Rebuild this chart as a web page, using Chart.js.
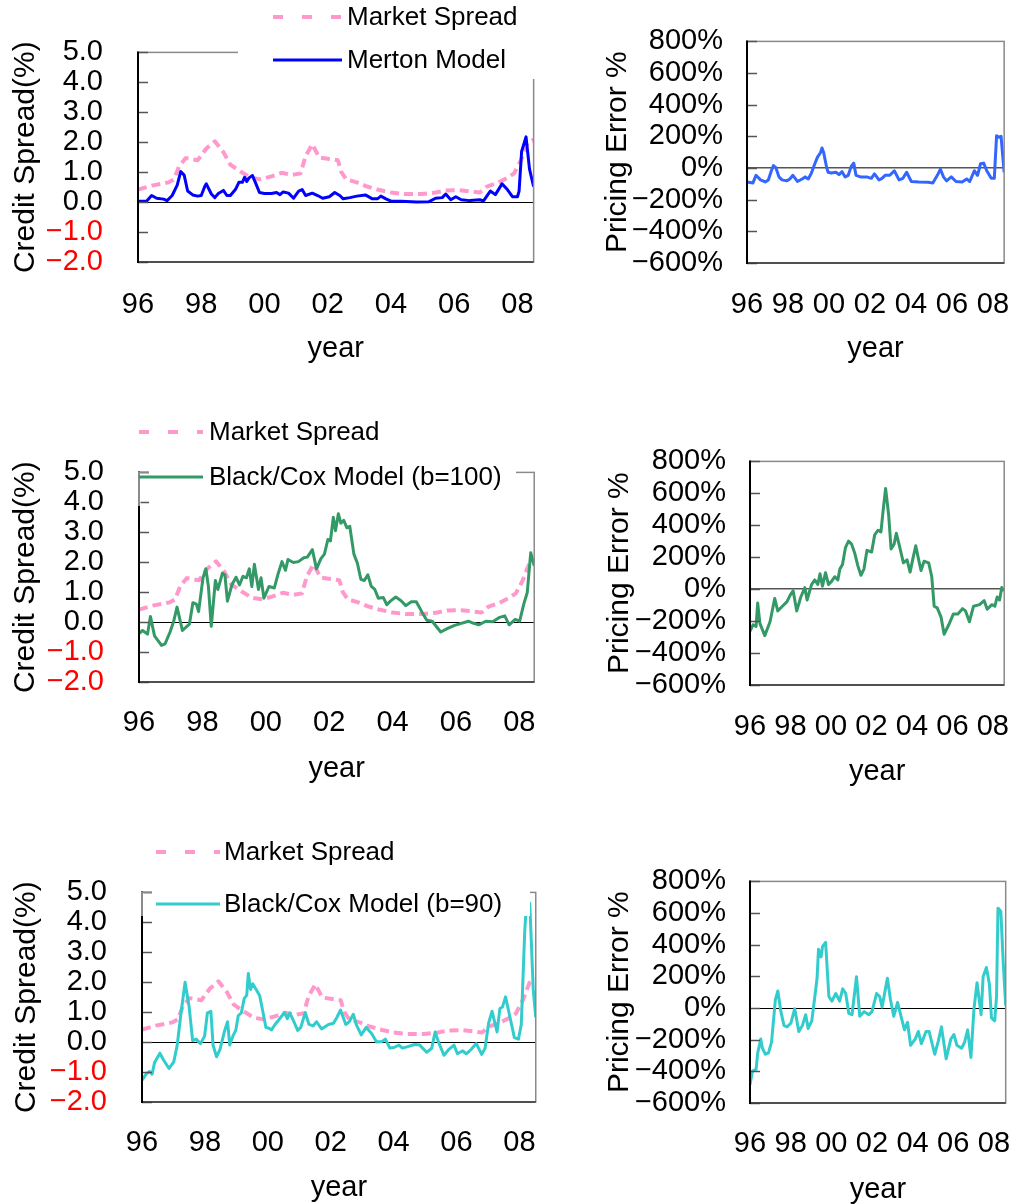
<!DOCTYPE html>
<html>
<head>
<meta charset="utf-8">
<title>Credit spread: market vs structural models</title>
<script src="https://cdn.jsdelivr.net/npm/chart.js@4.4.1/dist/chart.umd.min.js"></script>
<style>
  body { margin: 0; background: #fff; }
  #page { position: relative; width: 1034px; height: 1204px; overflow: hidden; }
  #page canvas { position: absolute; }
</style>
</head>
<body>
<div id="page"></div>
<script>
// x axis: decimal years, labelled every two years
const yearTicks = [1996, 1998, 2000, 2002, 2004, 2006, 2008];
const spreadTicks = [-2, -1, 0, 1, 2, 3, 4, 5];
const errorTicks = [-600, -400, -200, 0, 200, 400, 600, 800];

// credit spreads (%), [year, value]
const marketSpread = [
  [1996.00, 0.42], [1996.43, 0.55], [1996.97, 0.66], [1997.14, 0.76], [1997.30, 1.20], [1997.51, 1.47],
  [1997.89, 1.40], [1998.16, 1.79], [1998.43, 2.03], [1998.70, 1.67], [1998.92, 1.25], [1999.24, 1.02],
  [1999.57, 0.81], [1999.89, 0.76], [2000.22, 0.86], [2000.54, 0.98], [2000.86, 0.91], [2001.14, 0.96],
  [2001.30, 1.54], [2001.51, 1.93], [2001.73, 1.49], [2002.05, 1.44], [2002.32, 1.40], [2002.43, 1.00],
  [2002.59, 0.76], [2002.92, 0.66], [2003.24, 0.52], [2003.57, 0.42], [2004.00, 0.32], [2004.43, 0.27],
  [2004.97, 0.27], [2005.41, 0.32], [2005.73, 0.39], [2006.16, 0.40], [2006.59, 0.35], [2006.81, 0.32],
  [2007.03, 0.52], [2007.35, 0.63], [2007.68, 0.81], [2007.89, 0.96], [2008.11, 1.40], [2008.32, 1.98],
  [2008.51, 2.08]
];
const mertonSpread = [
  [1996.00, 0.03], [1996.27, 0.03], [1996.43, 0.22], [1996.59, 0.13], [1996.81, 0.10], [1996.92, 0.05],
  [1997.08, 0.22], [1997.24, 0.57], [1997.35, 1.02], [1997.46, 0.90], [1997.57, 0.37], [1997.73, 0.24],
  [1997.89, 0.20], [1998.00, 0.22], [1998.11, 0.52], [1998.16, 0.61], [1998.32, 0.27], [1998.43, 0.15],
  [1998.54, 0.29], [1998.70, 0.39], [1998.81, 0.22], [1998.92, 0.22], [1999.08, 0.42], [1999.19, 0.66],
  [1999.30, 0.66], [1999.37, 0.83], [1999.44, 0.69], [1999.51, 0.81], [1999.62, 0.89], [1999.73, 0.61],
  [1999.84, 0.32], [2000.00, 0.29], [2000.22, 0.29], [2000.38, 0.32], [2000.49, 0.25], [2000.59, 0.34],
  [2000.76, 0.30], [2000.92, 0.13], [2001.08, 0.37], [2001.19, 0.42], [2001.30, 0.22], [2001.51, 0.30],
  [2001.68, 0.22], [2001.84, 0.13], [2002.05, 0.18], [2002.22, 0.32], [2002.38, 0.22], [2002.49, 0.11],
  [2002.70, 0.15], [2002.92, 0.20], [2003.19, 0.24], [2003.41, 0.11], [2003.57, 0.11], [2003.68, 0.20],
  [2003.84, 0.11], [2004.00, 0.03], [2004.32, 0.03], [2004.81, 0.00], [2005.19, 0.01], [2005.41, 0.13],
  [2005.62, 0.15], [2005.73, 0.27], [2005.89, 0.08], [2006.05, 0.18], [2006.22, 0.08], [2006.49, 0.05],
  [2006.81, 0.08], [2006.92, 0.03], [2007.14, 0.37], [2007.30, 0.25], [2007.51, 0.61], [2007.68, 0.42],
  [2007.84, 0.18], [2008.00, 0.18], [2008.05, 0.37], [2008.13, 1.69], [2008.27, 2.18], [2008.38, 1.10],
  [2008.51, 0.52]
];
const bc100Spread = [
  [1996.00, -0.38], [1996.11, -0.28], [1996.27, -0.40], [1996.36, 0.19], [1996.49, -0.46], [1996.71, -0.78],
  [1996.82, -0.73], [1996.98, -0.33], [1997.09, 0.01], [1997.20, 0.50], [1997.37, -0.28], [1997.59, -0.07],
  [1997.70, 0.65], [1997.81, 0.60], [1997.88, 0.35], [1998.02, 1.48], [1998.11, 1.78], [1998.19, 1.19],
  [1998.28, -0.14], [1998.41, 1.39], [1998.49, 1.09], [1998.63, 1.63], [1998.71, 1.58], [1998.79, 0.70],
  [1998.93, 1.24], [1999.06, 1.50], [1999.17, 1.24], [1999.28, 1.53], [1999.39, 1.48], [1999.48, 1.78],
  [1999.56, 1.19], [1999.64, 1.93], [1999.77, 1.09], [1999.85, 1.48], [1999.94, 0.80], [2000.10, 1.19],
  [2000.27, 1.14], [2000.38, 1.58], [2000.51, 2.02], [2000.62, 1.73], [2000.70, 2.09], [2000.87, 1.99],
  [2001.03, 2.02], [2001.20, 2.15], [2001.31, 2.17], [2001.47, 2.42], [2001.60, 1.78], [2001.74, 2.12],
  [2001.85, 2.27], [2001.96, 2.76], [2002.04, 2.71], [2002.13, 3.50], [2002.20, 3.05], [2002.29, 3.62],
  [2002.37, 3.30], [2002.46, 3.40], [2002.56, 3.15], [2002.65, 3.20], [2002.78, 2.27], [2002.89, 1.97],
  [2003.00, 1.43], [2003.11, 1.39], [2003.22, 1.58], [2003.33, 1.19], [2003.44, 1.09], [2003.55, 0.80],
  [2003.71, 0.82], [2003.82, 0.58], [2003.93, 0.70], [2004.10, 0.84], [2004.26, 0.72], [2004.42, 0.55],
  [2004.59, 0.68], [2004.75, 0.68], [2004.92, 0.35], [2005.08, 0.06], [2005.25, 0.03], [2005.52, -0.33],
  [2005.74, -0.21], [2005.96, -0.11], [2006.17, -0.04], [2006.39, 0.03], [2006.56, -0.04], [2006.72, -0.09],
  [2006.94, 0.03], [2007.16, 0.01], [2007.38, 0.16], [2007.54, 0.21], [2007.68, -0.09], [2007.87, 0.09],
  [2008.01, 0.03], [2008.14, 0.60], [2008.25, 0.99], [2008.36, 2.32], [2008.47, 1.88]
];
const bc90Spread = [
  [1996.00, -1.27], [1996.13, -1.07], [1996.24, -0.98], [1996.32, -1.07], [1996.40, -0.68], [1996.57, -0.37],
  [1996.68, -0.59], [1996.86, -0.88], [1997.01, -0.66], [1997.12, -0.10], [1997.23, 0.88], [1997.37, 2.00],
  [1997.50, 1.17], [1997.61, 0.05], [1997.72, 0.10], [1997.86, -0.05], [1997.99, 0.20], [1998.08, 0.98],
  [1998.19, 1.03], [1998.26, -0.10], [1998.37, -0.49], [1998.48, -0.24], [1998.63, 0.39], [1998.72, 0.68],
  [1998.79, -0.10], [1998.89, 0.20], [1998.98, 0.39], [1999.06, 0.88], [1999.16, 0.98], [1999.25, 1.46],
  [1999.33, 1.56], [1999.38, 2.29], [1999.45, 1.76], [1999.52, 1.95], [1999.63, 1.76], [1999.74, 1.56],
  [1999.85, 0.98], [1999.94, 0.49], [2000.02, 0.47], [2000.12, 0.41], [2000.23, 0.59], [2000.34, 0.73],
  [2000.45, 0.88], [2000.53, 0.99], [2000.62, 0.78], [2000.70, 0.98], [2000.81, 0.73], [2000.95, 0.39],
  [2001.05, 0.49], [2001.19, 0.99], [2001.31, 0.59], [2001.44, 0.54], [2001.55, 0.68], [2001.71, 0.44],
  [2001.93, 0.59], [2002.09, 0.63], [2002.20, 0.83], [2002.31, 1.07], [2002.48, 0.59], [2002.59, 0.68],
  [2002.72, 0.93], [2002.81, 0.59], [2002.97, 0.24], [2003.13, 0.49], [2003.30, 0.29], [2003.46, 0.00],
  [2003.63, 0.02], [2003.74, 0.10], [2003.88, -0.20], [2004.01, -0.18], [2004.17, -0.10], [2004.28, -0.20],
  [2004.45, -0.15], [2004.67, -0.08], [2004.83, -0.10], [2005.05, -0.34], [2005.21, -0.21], [2005.32, 0.34],
  [2005.43, 0.00], [2005.60, -0.44], [2005.76, -0.24], [2005.92, -0.10], [2006.03, -0.39], [2006.20, -0.29],
  [2006.31, -0.39], [2006.47, -0.24], [2006.63, -0.05], [2006.80, -0.41], [2006.91, -0.20], [2007.02, 0.63],
  [2007.13, 1.03], [2007.29, 0.34], [2007.38, 1.12], [2007.46, 1.17], [2007.56, 1.51], [2007.67, 0.98],
  [2007.84, 0.15], [2007.97, 0.10], [2008.06, 0.59], [2008.17, 3.71], [2008.22, 4.54], [2008.33, 4.64],
  [2008.44, 1.76], [2008.52, 0.83]
];

// pricing errors (%), [year, value]
const mertonError = [
  [1996.00, -88], [1996.29, -94], [1996.44, -46], [1996.66, -75], [1996.89, -88], [1997.04, -75],
  [1997.19, -17], [1997.29, 15], [1997.41, 2], [1997.56, -56], [1997.71, -75], [1997.94, -81],
  [1998.09, -69], [1998.24, -46], [1998.46, -85], [1998.69, -69], [1998.84, -56], [1998.99, -69],
  [1999.14, -33], [1999.29, 21], [1999.44, 69], [1999.59, 98], [1999.66, 127], [1999.74, 98],
  [1999.89, 2], [1999.96, -27], [2000.11, -31], [2000.34, -27], [2000.49, -42], [2000.64, -23],
  [2000.79, -56], [2000.94, -46], [2001.09, 12], [2001.21, 31], [2001.32, -46], [2001.54, -56],
  [2001.84, -56], [2002.07, -65], [2002.22, -37], [2002.44, -75], [2002.59, -65], [2002.74, -46],
  [2002.97, -46], [2003.19, -17], [2003.42, -75], [2003.61, -65], [2003.79, -27], [2004.02, -85],
  [2004.39, -88], [2004.84, -90], [2005.07, -94], [2005.29, -46], [2005.44, -8], [2005.59, -56],
  [2005.74, -81], [2005.97, -56], [2006.20, -85], [2006.50, -88], [2006.72, -69], [2006.87, -85],
  [2007.10, -17], [2007.25, -46], [2007.40, 27], [2007.55, 31], [2007.70, -17], [2007.92, -65],
  [2008.07, -65], [2008.18, 204], [2008.30, 194], [2008.40, 200], [2008.55, -27]
];
const bc100Error = [
  [1996.00, -262], [1996.15, -223], [1996.30, -233], [1996.38, -87], [1996.49, -214], [1996.73, -291],
  [1996.99, -204], [1997.22, -58], [1997.37, -136], [1997.60, -107], [1997.83, -78], [1997.98, -39],
  [1998.13, -10], [1998.31, -136], [1998.51, -49], [1998.71, 10], [1998.82, -68], [1999.04, 29],
  [1999.20, 58], [1999.35, 29], [1999.46, 97], [1999.58, 19], [1999.73, 103], [1999.88, 29],
  [2000.03, 49], [2000.19, 78], [2000.34, 58], [2000.44, 126], [2000.57, 155], [2000.72, 262],
  [2000.87, 301], [2001.02, 282], [2001.18, 223], [2001.33, 146], [2001.48, 87], [2001.63, 126],
  [2001.78, 243], [2002.01, 233], [2002.16, 340], [2002.32, 369], [2002.47, 359], [2002.58, 495],
  [2002.70, 631], [2002.85, 466], [2002.97, 252], [2003.12, 282], [2003.23, 350], [2003.38, 272],
  [2003.58, 165], [2003.76, 184], [2003.91, 107], [2004.07, 204], [2004.19, 272], [2004.30, 204],
  [2004.45, 117], [2004.60, 175], [2004.83, 165], [2004.98, 78], [2005.10, -107], [2005.25, -117],
  [2005.44, -175], [2005.59, -282], [2005.82, -223], [2006.05, -155], [2006.27, -155], [2006.50, -122],
  [2006.65, -136], [2006.84, -204], [2007.04, -107], [2007.34, -97], [2007.57, -72], [2007.72, -126],
  [2007.95, -97], [2008.10, -107], [2008.21, -49], [2008.33, -68], [2008.44, 10], [2008.56, -10]
];
const bc90Error = [
  [1996.00, -485], [1996.12, -398], [1996.30, -388], [1996.38, -283], [1996.53, -196], [1996.61, -254],
  [1996.76, -292], [1996.91, -283], [1997.06, -215], [1997.25, 54], [1997.37, 108], [1997.52, -23],
  [1997.67, -110], [1997.82, -119], [1998.01, -96], [1998.20, -4], [1998.40, -148], [1998.58, -110],
  [1998.74, -42], [1998.86, -129], [1999.04, -81], [1999.19, 73], [1999.30, 188], [1999.37, 371],
  [1999.50, 323], [1999.57, 390], [1999.72, 415], [1999.88, 73], [2000.03, 44], [2000.22, 92],
  [2000.41, 44], [2000.56, 121], [2000.71, 92], [2000.86, -33], [2001.02, -42], [2001.24, 198],
  [2001.40, -52], [2001.62, -23], [2001.85, -42], [2002.00, -23], [2002.23, 92], [2002.38, 73],
  [2002.50, 6], [2002.76, 188], [2002.91, 54], [2003.07, -52], [2003.26, 35], [2003.45, -62],
  [2003.60, -138], [2003.75, -90], [2003.90, -235], [2004.13, -196], [2004.28, -148], [2004.43, -225],
  [2004.66, -148], [2004.81, -148], [2005.09, -292], [2005.27, -206], [2005.42, -119], [2005.65, -321],
  [2005.88, -196], [2006.03, -167], [2006.18, -235], [2006.41, -254], [2006.56, -215], [2006.71, -138],
  [2006.87, -312], [2007.02, -4], [2007.17, 160], [2007.37, -42], [2007.47, 198], [2007.63, 256],
  [2007.78, 150], [2007.88, -62], [2008.04, -81], [2008.13, 73], [2008.20, 631], [2008.34, 612],
  [2008.46, 285], [2008.58, 15]
];

function fontAvailable(family) {
  const ctx = document.createElement('canvas').getContext('2d');
  const probe = '0123456789.%';
  ctx.font = '40px monospace';
  const base = ctx.measureText(probe).width;
  ctx.font = '40px "' + family + '", monospace';
  return ctx.measureText(probe).width !== base;
}

const SANS = '"Liberation Sans", Arial, sans-serif';
const tickFont = fontAvailable('Liberation Sans Narrow')
  ? { family: '"Liberation Sans Narrow", ' + SANS, size: 30 }
  : { family: SANS, size: 29 };
const yTitleFont = { family: SANS, size: 30 };
const xTitleFont = { family: SANS, size: 29 };
const legendFont = '26px ' + SANS;
const FRAME_GREY = '#8a8a8a';
const MARKET_DASH = [9, 5];
const LEGEND_DASH = [10, 19];

const market = { label: 'Market Spread', data: marketSpread, color: '#ff99cc', width: 4, dash: MARKET_DASH };

// page layout: canvas box, plot area [l, t, r, b] and label anchors, all in page pixels
const panels = [
  { left: 0, top: 0, w: 560, h: 410, area: [138, 24, 541, 262], xMax: 2008.51,
    yLabelRight: 103, yTitleX: 26, xLabelY: 305, xTitleY: 349, kind: 'spread',
    series: [market, { label: 'Merton Model', data: mertonSpread, color: '#0000ff', width: 3 }],
    zero: { color: '#000', width: 1 },
    legend: { box: [238, 0, 310, 79], sample: [273, 342], textX: 347, rows: [17, 60] } },
  { left: 570, top: 0, w: 464, h: 410, area: [747, 21, 1025, 263], xMax: 2008.55,
    yLabelRight: 723, yTitleX: 618, xLabelY: 305, xTitleY: 349, kind: 'error',
    series: [{ label: 'Merton Model', data: mertonError, color: '#3366ff', width: 3 }],
    zero: { color: '#555', width: 1.5 } },
  { left: 0, top: 420, w: 560, h: 410, area: [139, 444, 535, 682], xMax: 2008.47,
    yLabelRight: 104, yTitleX: 26, xLabelY: 723, xTitleY: 769, kind: 'spread',
    series: [market, { label: 'Black/Cox Model (b=100)', data: bc100Spread, color: '#339966', width: 3 }],
    zero: { color: '#000', width: 1 },
    legend: { box: [149, 420, 367, 86], sample: [139, 203], textX: 209, rows: [432, 477], greyAxis: true } },
  { left: 570, top: 420, w: 464, h: 410, area: [750, 444, 1025, 685], xMax: 2008.56,
    yLabelRight: 726, yTitleX: 620, xLabelY: 727, xTitleY: 772, kind: 'error',
    series: [{ label: 'Black/Cox Model (b=100)', data: bc100Error, color: '#339966', width: 3 }],
    zero: { color: '#555', width: 1.5 } },
  { left: 0, top: 840, w: 560, h: 364, area: [142, 863, 539, 1102], xMax: 2008.52,
    yLabelRight: 107, yTitleX: 27, xLabelY: 1143, xTitleY: 1188, kind: 'spread',
    series: [market, { label: 'Black/Cox Model (b=90)', data: bc90Spread, color: '#33cccc', width: 3 }],
    zero: { color: '#000', width: 1 },
    legend: { box: [152, 840, 378, 76], sample: [156, 220], textX: 224, rows: [852, 904], greyAxis: true } },
  { left: 570, top: 840, w: 464, h: 364, area: [750, 861, 1026, 1103], xMax: 2008.58,
    yLabelRight: 726, yTitleX: 620, xLabelY: 1144, xTitleY: 1190, kind: 'error',
    series: [{ label: 'Black/Cox Model (b=90)', data: bc90Error, color: '#33cccc', width: 3 }],
    zero: { color: '#000', width: 1 } }
];

const minus = s => s.replace('-', '\u2212');

function hline(ctx, x0, x1, y) { ctx.beginPath(); ctx.moveTo(x0, y); ctx.lineTo(x1, y); ctx.stroke(); }
function vline(ctx, x, y0, y1) { ctx.beginPath(); ctx.moveTo(x, y0); ctx.lineTo(x, y1); ctx.stroke(); }

// plot frame, black value axis and inward tick marks
function framePlugin() {
  return {
    id: 'panelFrame',
    afterDatasetsDraw(chart) {
      const { ctx, chartArea: a, scales: { y } } = chart;
      ctx.save();
      ctx.lineWidth = 1.5;
      ctx.strokeStyle = FRAME_GREY;
      ctx.strokeRect(a.left, a.top, a.right - a.left, a.bottom - a.top);
      ctx.strokeStyle = '#555';
      y.ticks.forEach(tk => {
        const py = Math.round(y.getPixelForValue(tk.value)) + 0.5;
        hline(ctx, a.left, a.left + 10, py);
      });
      ctx.strokeStyle = '#333';
      hline(ctx, a.left, a.right, a.bottom);
      ctx.strokeStyle = '#000';
      ctx.lineWidth = 2;
      vline(ctx, a.left, a.top - 1, a.bottom + 1);
      ctx.restore();
    }
  };
}

// legend laid over the upper part of the plot
function legendPlugin(p) {
  return {
    id: 'panelLegend',
    afterDraw(chart) {
      const lg = p.legend;
      if (!lg) return;
      const { ctx, chartArea: a } = chart;
      const [bx, by, bw, bh] = lg.box;
      const ox = p.left, oy = p.top;
      ctx.save();
      ctx.fillStyle = '#fff';
      ctx.fillRect(bx - ox, by - oy, bw, bh);
      if (lg.greyAxis) {
        ctx.strokeStyle = FRAME_GREY;
        ctx.lineWidth = 2;
        ctx.fillRect(a.left - 1.5, a.top, 3, by - oy + bh - a.top);
        vline(ctx, a.left, a.top, by - oy + bh);
        ctx.lineWidth = 1.5;
        hline(ctx, a.left, a.left + 10, Math.round(a.top) + 0.5);
      }
      ctx.font = legendFont;
      ctx.textBaseline = 'middle';
      ctx.fillStyle = '#000';
      chart.data.datasets.forEach((ds, i) => {
        const ry = lg.rows[i] - oy;
        ctx.strokeStyle = ds.borderColor;
        ctx.lineWidth = ds.borderWidth;
        ctx.setLineDash(ds.borderDash && ds.borderDash.length ? LEGEND_DASH : []);
        hline(ctx, lg.sample[0] - ox, lg.sample[1] - ox, ry);
        ctx.fillText(ds.label, lg.textX - ox, ry + 1);
      });
      ctx.restore();
    }
  };
}

const page = document.getElementById('page');

panels.forEach(p => {
  const canvas = document.createElement('canvas');
  canvas.width = p.w;
  canvas.height = p.h;
  canvas.style.left = p.left + 'px';
  canvas.style.top = p.top + 'px';
  page.appendChild(canvas);

  const [l, t, r, b] = [p.area[0] - p.left, p.area[1] - p.top, p.area[2] - p.left, p.area[3] - p.top];
  const isSpread = p.kind === 'spread';
  const yValues = isSpread ? spreadTicks : errorTicks;

  const datasets = p.series.map((s, i) => ({
    label: s.label,
    data: s.data.map(([x, y]) => ({ x, y })),
    borderColor: s.color,
    borderWidth: s.width,
    borderDash: s.dash || [],
    borderJoinStyle: 'round',
    pointRadius: 0,
    tension: 0,
    fill: false,
    // model line sits on top of the market spread
    order: p.series.length - 1 - i
  }));

  new Chart(canvas, {
    type: 'line',
    data: { datasets },
    options: {
      responsive: false,
      animation: false,
      devicePixelRatio: 1,
      events: [],
      layout: { padding: { left: 0, top: t, right: p.w - r, bottom: 0 } },
      plugins: { legend: { display: false }, tooltip: { enabled: false } },
      scales: {
        x: {
          type: 'linear',
          min: 1996,
          max: p.xMax,
          afterBuildTicks: s => { s.ticks = yearTicks.map(v => ({ value: v })); },
          afterFit: s => { s.height = p.h - b; },
          grid: { display: false, drawTicks: false },
          border: { display: false },
          ticks: {
            font: tickFont,
            color: '#000',
            maxRotation: 0,
            autoSkip: false,
            padding: p.xLabelY - p.area[3] - tickFont.size * 0.6,
            callback: v => String(v).slice(2)
          },
          title: {
            display: true,
            text: 'year',
            color: '#000',
            font: xTitleFont,
            padding: { top: 0, bottom: (p.top + p.h) - p.xTitleY - xTitleFont.size * 0.6 }
          }
        },
        y: {
          type: 'linear',
          min: yValues[0],
          max: yValues[yValues.length - 1],
          afterBuildTicks: s => { s.ticks = yValues.map(v => ({ value: v })); },
          afterFit: s => { s.width = l; },
          grid: {
            drawTicks: false,
            color: c => (c.tick && c.tick.value === 0 ? p.zero.color : 'rgba(0,0,0,0)'),
            lineWidth: p.zero.width
          },
          border: { display: false },
          ticks: {
            font: tickFont,
            padding: p.area[0] - p.yLabelRight,
            autoSkip: false,
            color: c => (isSpread && c.tick.value < 0 ? '#ff0000' : '#000'),
            callback: v => minus(isSpread ? v.toFixed(1) : v + '%')
          },
          title: {
            display: true,
            text: isSpread ? 'Credit Spread(%)' : 'Pricing Error %',
            color: '#000',
            font: yTitleFont,
            padding: { top: p.yTitleX - p.left - yTitleFont.size * 0.6, bottom: 0 }
          }
        }
      }
    },
    plugins: [framePlugin(), legendPlugin(p)]
  });
});
</script>
</body>
</html>
